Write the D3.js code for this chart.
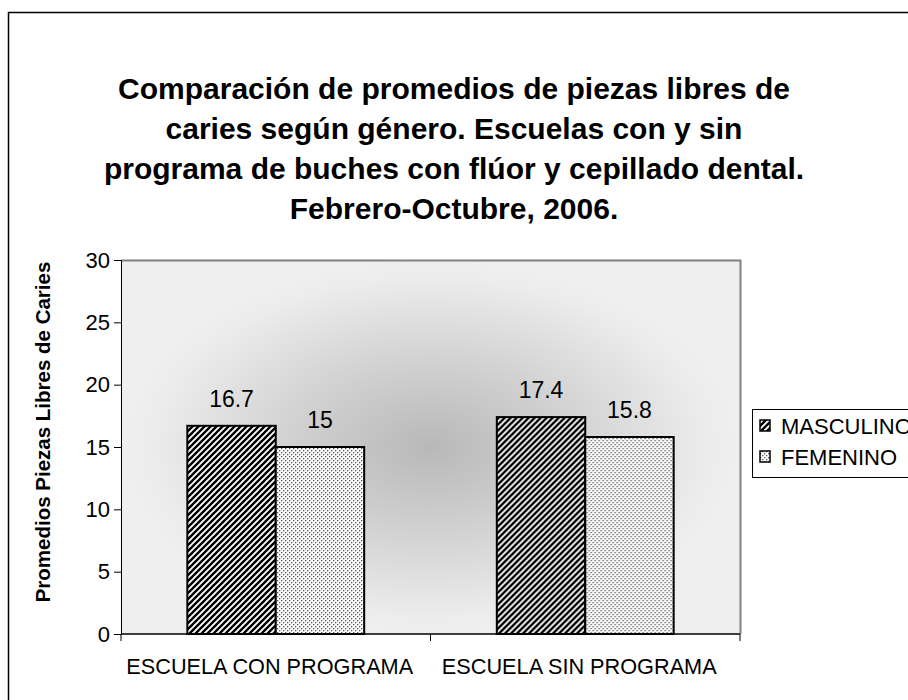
<!DOCTYPE html>
<html lang="es">

<head>
  <meta charset="utf-8">
  <title>Promedios de piezas libres de caries</title>
  <script src="https://d3js.org/d3.v7.min.js"></script>
  <style>
    body {
      margin: 0;
      background: #ffffff;
    }

    text {
      font-family: Arial, "Liberation Sans", sans-serif;
    }
  </style>
</head>

<body>

  <div id="svgDiv"></div>

  <script>
    // data
    var categories = ["ESCUELA CON PROGRAMA", "ESCUELA SIN PROGRAMA"];
    var series = ["MASCULINO", "FEMENINO"];
    var masculino = [16.7, 17.4];
    var femenino = [15, 15.8];
    var yTicks = [0, 5, 10, 15, 20, 25, 30];
    var titleLines = [
      "Comparación de promedios de piezas libres de",
      "caries según género. Escuelas con y sin",
      "programa de buches con flúor y cepillado dental.",
      "Febrero-Octubre, 2006."
    ];
    var yTitle = "Promedios Piezas Libres de Caries";

    // width and height
    var w = 908;
    var h = 700;

    // plot area (not named top/left: those clash with window globals)
    var plotL = 121, plotR = 740, plotT = 260, plotB = 634;

    var svg = d3
      .select("#svgDiv")
      .append("svg")
      .attr("width", w)
      .attr("height", h);

    var defs = svg.append("defs");

    // background gradient, dark in the middle
    var grad = defs
      .append("radialGradient")
      .attr("id", "bgGrad")
      .attr("cx", "50%")
      .attr("cy", "50%")
      .attr("r", "50%");
    grad.append("stop").attr("offset", "0%").attr("stop-color", "#b8b8b8");
    grad.append("stop").attr("offset", "50%").attr("stop-color", "#d4d4d4");
    grad.append("stop").attr("offset", "90%").attr("stop-color", "#ececec");
    grad.append("stop").attr("offset", "100%").attr("stop-color", "#efefef");

    // wide upward diagonal for masculino
    var stripes = defs
      .append("pattern")
      .attr("id", "patMasc")
      .attr("patternUnits", "userSpaceOnUse")
      .attr("width", 6)
      .attr("height", 6);
    stripes.append("rect").attr("width", 6).attr("height", 6).attr("fill", "#fff");
    stripes
      .append("path")
      .attr("d", "M-1.5,1.5 L1.5,-1.5 M0,6 L6,0 M4.5,7.5 L7.5,4.5")
      .attr("stroke", "#000")
      .attr("stroke-width", 2.4);

    // small dots for femenino
    var dots = defs
      .append("pattern")
      .attr("id", "patFem")
      .attr("patternUnits", "userSpaceOnUse")
      .attr("width", 4)
      .attr("height", 4);
    dots.append("rect").attr("width", 4).attr("height", 4).attr("fill", "#fff");
    dots.append("rect").attr("x", 0).attr("y", 0).attr("width", 1.3).attr("height", 1.3).attr("fill", "#555");
    dots.append("rect").attr("x", 2).attr("y", 2).attr("width", 1.3).attr("height", 1.3).attr("fill", "#555");

    var fills = { MASCULINO: "url(#patMasc)", FEMENINO: "url(#patFem)" };

    // outer chart border
    svg
      .append("rect")
      .attr("x", 8.5)
      .attr("y", 12.5)
      .attr("width", 1000)
      .attr("height", 1000)
      .attr("fill", "none")
      .attr("stroke", "#000")
      .attr("stroke-width", 1.5);

    // title
    svg
      .append("g")
      .selectAll("text")
      .data(titleLines)
      .enter()
      .append("text")
      .attr("x", w / 2)
      .attr("y", (d, i) => 99 + i * 40)
      .attr("text-anchor", "middle")
      .style("font-size", "30px")
      .style("font-weight", "bold")
      .text((d) => d);

    // scales
    var y = d3.scaleLinear().domain([0, 30]).range([plotB, plotT]);

    var x0 = d3.scaleBand().domain(categories).range([plotL, plotR]);
    var bw = x0.bandwidth();
    // excel gap width of 150%
    var x1 = d3
      .scaleBand()
      .domain(series)
      .range([(bw * 0.75) / 3.5, (bw * 2.75) / 3.5]);

    // plot background
    svg
      .append("rect")
      .attr("x", plotL)
      .attr("y", plotT)
      .attr("width", plotR - plotL)
      .attr("height", plotB - plotT)
      .attr("fill", "url(#bgGrad)");

    // grey frame on top and right
    svg
      .append("path")
      .attr("d", "M" + plotL + "," + (plotT + 0.5) + " H" + (plotR + 0.5) + " V" + plotB)
      .attr("fill", "none")
      .attr("stroke", "#808080")
      .attr("stroke-width", 2);

    // bars
    var rows = categories.map((c, i) => ({
      cat: c,
      vals: [
        { key: "MASCULINO", value: masculino[i] },
        { key: "FEMENINO", value: femenino[i] }
      ]
    }));

    var groups = svg
      .append("g")
      .selectAll("g")
      .data(rows)
      .enter()
      .append("g")
      .attr("transform", (d) => "translate(" + x0(d.cat) + ",0)");

    groups
      .selectAll("rect")
      .data((d) => d.vals)
      .enter()
      .append("rect")
      .attr("x", (d) => x1(d.key))
      .attr("y", (d) => y(d.value))
      .attr("width", x1.bandwidth())
      .attr("height", (d) => y(0) - y(d.value))
      .attr("fill", (d) => fills[d.key])
      .attr("stroke", "#000")
      .attr("stroke-width", 2);

    // value labels
    groups
      .selectAll("text")
      .data((d) => d.vals)
      .enter()
      .append("text")
      .attr("x", (d) => x1(d.key) + x1.bandwidth() / 2)
      .attr("y", (d) => y(d.value) - 19)
      .attr("text-anchor", "middle")
      .style("font-size", "23px")
      .text((d) => d.value);

    // y axis
    var yAxis = svg
      .append("g")
      .attr("transform", "translate(" + plotL + ",0)")
      .call(d3.axisLeft(y).tickValues(yTicks).tickSize(7).tickPadding(4));
    yAxis.select(".domain").attr("stroke", "#000");
    yAxis.selectAll("text").style("font-size", "22px").attr("fill", "#000");

    // x axis, ticks on category borders
    var xAxis = svg
      .append("g")
      .attr("transform", "translate(0," + plotB + ")");
    xAxis
      .append("line")
      .attr("x1", plotL)
      .attr("x2", plotR)
      .attr("stroke", "#000")
      .attr("stroke-width", 1.5);
    xAxis
      .selectAll(".tk")
      .data([plotL, plotL + bw, plotR])
      .enter()
      .append("line")
      .attr("class", "tk")
      .attr("x1", (d) => d)
      .attr("x2", (d) => d)
      .attr("y1", 0)
      .attr("y2", 7)
      .attr("stroke", "#000");
    xAxis
      .selectAll(".lbl")
      .data(categories)
      .enter()
      .append("text")
      .attr("class", "lbl")
      .attr("x", (d) => x0(d) + bw / 2 - 6)
      .attr("y", 40)
      .attr("text-anchor", "middle")
      .style("font-size", "21.7px")
      .text((d) => d);

    // y axis title
    svg
      .append("text")
      .attr("transform", "translate(50,432) rotate(-90)")
      .attr("text-anchor", "middle")
      .style("font-size", "20.5px")
      .style("font-weight", "bold")
      .text(yTitle);

    // legend
    var legend = svg.append("g").attr("transform", "translate(752,409)");
    legend
      .append("rect")
      .attr("x", 0.5)
      .attr("y", 0.5)
      .attr("width", 300)
      .attr("height", 68)
      .attr("fill", "#fff")
      .attr("stroke", "#000");

    var items = legend
      .selectAll(".item")
      .data(series)
      .enter()
      .append("g")
      .attr("class", "item")
      .attr("transform", (d, i) => "translate(0," + (25 + i * 31) + ")");
    items
      .append("rect")
      .attr("x", 8)
      .attr("y", -14)
      .attr("width", 10)
      .attr("height", 11)
      .attr("fill", (d) => fills[d])
      .attr("stroke", "#000")
      .attr("stroke-width", 1.5);
    items
      .append("text")
      .attr("x", 29)
      .attr("y", 0)
      .style("font-size", "22px")
      .text((d) => d);
  </script>

</body>

</html>
